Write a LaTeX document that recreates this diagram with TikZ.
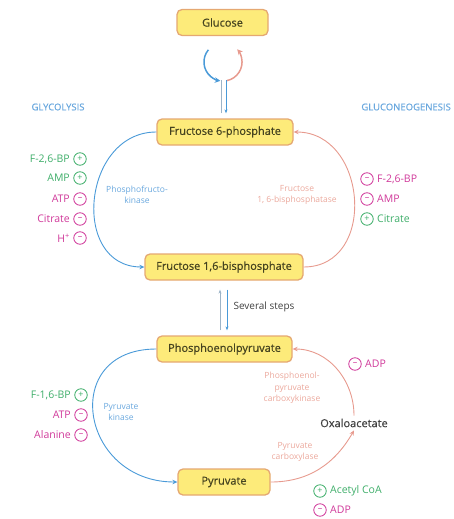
\documentclass[tikz,border=0pt]{standalone}
\usepackage{fontspec}
\setmainfont{Open Sans}
\newfontfamily\semib{Open Sans}[FakeBold=0.6]
\usetikzlibrary{arrows.meta}
\definecolor{boxfill}{HTML}{FDEB7A}
\definecolor{boxline}{HTML}{E5A872}
\definecolor{gblue}{HTML}{4A9AD8}
\definecolor{gred}{HTML}{E79A8E}
\definecolor{ggreen}{HTML}{3FAE6A}
\definecolor{gmag}{HTML}{D0399A}
\definecolor{lblue}{HTML}{6AA8DE}
\definecolor{lred}{HTML}{EBA89C}
\definecolor{dtext}{HTML}{45431F}
\definecolor{gline}{HTML}{9DB4C8}
\begin{document}
\begin{tikzpicture}[x=1pt,y=1pt,
  metab/.style={draw=boxline, fill=boxfill, line width=1.3pt, rounded corners=5pt,
    minimum height=26pt, font=\semib\fontsize{11}{13}\selectfont, text=dtext, inner xsep=3pt},
  glyarrow/.style={draw=gblue, line width=0.9pt, -{Stealth[length=5pt,width=4.5pt]}},
  gngarrow/.style={draw=gred, line width=0.9pt, -{Stealth[length=5pt,width=4.5pt]}},
  act/.style={circle, draw=ggreen, text=ggreen, line width=0.8pt, inner sep=0pt,
    minimum size=12.5pt, font=\fontsize{9}{9}\selectfont},
  inh/.style={act, draw=gmag, text=gmag},
  effl/.style={font=\fontsize{10.5}{11}\selectfont, inner sep=1pt},
  enz/.style={font=\fontsize{8.5}{11.5}\selectfont, align=center},
  pathlabel/.style={font=\semib\fontsize{9.5}{10}\selectfont, text=lblue}
]
\useasboundingbox (0,0) rectangle (453,-519);

% metabolites
\node[metab, minimum width=91pt]  (glc) at (222.5,-22.5) {Glucose};
\node[metab, minimum width=136pt] (f6p) at (225,-132)   {Fructose 6-phosphate};
\node[metab, minimum width=158pt] (fbp) at (224,-267)   {Fructose 1,6-bisphosphate};
\node[metab, minimum width=135pt] (pep) at (224.5,-349) {Phosphoenolpyruvate};
\node[metab, minimum width=92pt]  (pyr) at (224,-482)   {Pyruvate};
\node[font=\semib\fontsize{11}{13}\selectfont, text=black!75, inner sep=3pt] (oaa) at (354,-423) {Oxaloacetate};

% pathway labels
\node[pathlabel, anchor=west] (gly) at (28,-107) {GLYCOLYSIS};
\node[pathlabel, anchor=east, inner sep=1pt] (gng) at (452,-107) {GLUCONEOGENESIS};

% glucose <-> F6P
\coordinate (bs) at (208.4,-49.8);
\coordinate (rs) at (227,-80.6);
\draw[gblue, line width=1.5pt, -{Stealth[length=5.5pt,width=5.5pt]}] (bs) arc[start angle=140, end angle=262, radius=19];
\draw[gred, line width=1.5pt, -{Stealth[length=5.5pt,width=5.5pt]}] (rs) arc[start angle=-78, end angle=42, radius=19];
\coordinate (gb) at (226,-80);
\coordinate (gr) at (221,-80);
\draw[gblue, line width=0.6pt, -{Stealth[length=4pt,width=3pt]}, shorten >=5pt] (gb) -- ([xshift=1pt]f6p.north);
\draw[gline, line width=0.6pt, shorten <=5pt] ([xshift=-4pt]f6p.north) -- (gr);

% several steps
\draw[gline, line width=0.6pt, -{Stealth[length=4pt,width=3pt]}, shorten >=9pt, shorten <=5pt] ([xshift=-4.5pt]pep.north) -- ([xshift=-4pt]fbp.south);
\draw[gblue, line width=0.6pt, -{Stealth[length=4pt,width=3pt]}, shorten >=5pt, shorten <=9pt] ([xshift=3pt]fbp.south) -- ([xshift=2.5pt]pep.north);
\node[font=\fontsize{10}{12}\selectfont, text=black!75, anchor=west] (sev) at (230,-307) {Several steps};

% main arcs
\draw[glyarrow] (f6p.west) to[out=180, in=180, looseness=1.4] (fbp.west);
\draw[gngarrow] (fbp.east) to[out=0, in=0, looseness=1.4] (f6p.east);
\draw[glyarrow] (pep.west) to[out=180, in=180, looseness=1.85] (pyr.west);
\draw[gngarrow] (pyr.east) to[out=0, in=-120] (oaa.south);
\draw[gngarrow] (oaa.north) to[out=90, in=0] (pep.east);

% enzyme labels
\node[enz, text=lblue] (pfk) at (137,-195) {Phosphofructo-\\kinase};
\node[enz, text=lred] (fbpase) at (297,-195) {Fructose\\1, 6-bisphosphatase};
\node[enz, text=lblue] (pk) at (121,-412) {Pyruvate\\kinase};
\node[enz, text=lred] (pepck) at (292,-388) {Phosphoenol-\\pyruvate\\carboxykinase};
\node[enz, text=lred] (pc) at (295,-452) {Pyruvate\\carboxylase};

% effectors PFK
\node[act] (e1) at (80,-159) {+}; \node[effl, text=ggreen, anchor=east] (t1) at (71,-159) {F-2,6-BP};
\node[act] (e2) at (80,-178) {+}; \node[effl, text=ggreen, anchor=east] (t2) at (71,-178) {AMP};
\node[inh] (e3) at (80,-199) {--}; \node[effl, text=gmag, anchor=east] (t3) at (71,-199) {ATP};
\node[inh] (e4) at (80,-219) {--}; \node[effl, text=gmag, anchor=east] (t4) at (71,-219) {Citrate};
\node[inh] (e5) at (80,-238) {--}; \node[effl, text=gmag, anchor=east] (t5) at (71,-238) {H\textsuperscript{+}};

% effectors FBPase
\node[inh] (f1) at (367,-179) {--}; \node[effl, text=gmag, anchor=west] (u1) at (376,-179) {F-2,6-BP};
\node[inh] (f2) at (367,-199) {--}; \node[effl, text=gmag, anchor=west] (u2) at (376,-199) {AMP};
\node[act] (f3) at (367,-219) {+}; \node[effl, text=ggreen, anchor=west] (u3) at (376,-219) {Citrate};

% effectors PK
\node[act] (k1) at (81,-395) {+}; \node[effl, text=ggreen, anchor=east] (v1) at (72,-395) {F-1,6-BP};
\node[inh] (k2) at (81,-415) {--}; \node[effl, text=gmag, anchor=east] (v2) at (72,-415) {ATP};
\node[inh] (k3) at (81,-435) {--}; \node[effl, text=gmag, anchor=east] (v3) at (72,-435) {Alanine};

% effectors PEPCK / PC
\node[inh] (m1) at (355,-364) {--}; \node[effl, text=gmag, anchor=west] (w1) at (364,-364) {ADP};
\node[act] (m2) at (320,-491) {+}; \node[effl, text=ggreen, anchor=west] (w2) at (329,-491) {Acetyl CoA};
\node[inh] (m3) at (320,-510) {--}; \node[effl, text=gmag, anchor=west] (w3) at (329,-510) {ADP};
\end{tikzpicture}
\end{document}
